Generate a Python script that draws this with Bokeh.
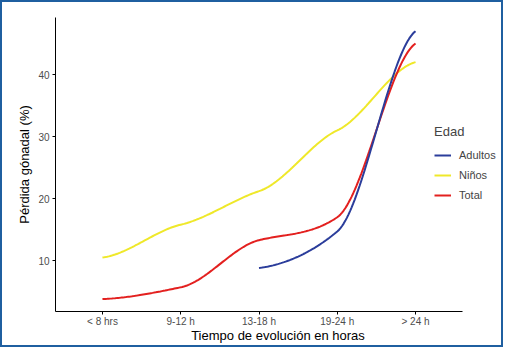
import numpy as np
from bokeh.plotting import figure
from bokeh.models import Range1d, FixedTicker, Legend, LegendItem
from bokeh.embed import file_html
from bokeh.resources import INLINE

# ---- data ----
categories = ["< 8 hrs", "9-12 h", "13-18 h", "19-24 h", "> 24 h"]
x_pos = [1, 2, 3, 4, 5]
ninos = [10.5, 15.8, 21.2, 31.0, 42.0]
total = [3.8, 5.7, 13.3, 17.0, 45.0]
adultos_x = [3, 4, 5]
adultos = [8.8, 14.7, 47.0]

series_names = ["Adultos", "Niños", "Total"]
series_colors = ["#2b3d9b", "#efe82a", "#e3201f"]


def smooth(xs, ys, k=0.55, kend=0.3, n=50):
    xs = np.asarray(xs, float)
    ys = np.asarray(ys, float)
    m = np.zeros_like(ys)
    for i in range(len(ys)):
        if i == 0:
            m[i] = kend * (ys[1] - ys[0]) / (xs[1] - xs[0])
        elif i == len(ys) - 1:
            m[i] = kend * (ys[-1] - ys[-2]) / (xs[-1] - xs[-2])
        else:
            m[i] = k * (ys[i + 1] - ys[i - 1]) / (xs[i + 1] - xs[i - 1])
    ox, oy = [], []
    for i in range(len(ys) - 1):
        h = xs[i + 1] - xs[i]
        t = np.linspace(0, 1, n, endpoint=(i == len(ys) - 2))
        h00 = 2 * t**3 - 3 * t**2 + 1
        h10 = t**3 - 2 * t**2 + t
        h01 = -2 * t**3 + 3 * t**2
        h11 = t**3 - t**2
        ox.extend(xs[i] + t * h)
        oy.extend(h00 * ys[i] + h10 * h * m[i] + h01 * ys[i + 1] + h11 * h * m[i + 1])
    return ox, oy


# frame extends under the legend; the x axis line is limited by bounds
W, H = 503, 347
left, right_b, top, bottom = 55, 3, 17, 36
x_lo, x_hi_axis = 0.4, 5.6
axis_px = 462 - left
x_hi = x_lo + (W - right_b - left) * (x_hi_axis - x_lo) / axis_px

p = figure(width=W, height=H, output_backend="svg", toolbar_location=None,
           x_range=Range1d(x_lo, x_hi), y_range=Range1d(1.8, 49.2),
           min_border_left=left, min_border_right=right_b, min_border_top=top,
           min_border_bottom=bottom)
p.styles = {"background-color": "white",
            "box-shadow": "inset 0 0 0 2px #1f5fa0",
            "outline": "2px solid #1f5fa0", "outline-offset": "-2px"}
p.grid.visible = False
p.outline_line_color = None
p.background_fill_color = "white"
p.border_fill_alpha = 0

font = "Liberation Sans"
for ax in (p.xaxis[0], p.yaxis[0]):
    ax.axis_line_color = "black"
    ax.axis_line_width = 1
    ax.major_tick_line_color = "black"
    ax.major_tick_in = 0
    ax.major_tick_out = 3
    ax.minor_tick_line_color = None
    ax.major_label_text_font = font
    ax.major_label_text_font_size = "10px"
    ax.major_label_text_color = "#4d4d4d"
    ax.axis_label_text_font = font
    ax.axis_label_text_font_size = "13px"
    ax.axis_label_text_font_style = "normal"
    ax.axis_label_text_color = "black"

p.xaxis.bounds = (x_lo, x_hi_axis)
p.xaxis.ticker = FixedTicker(ticks=x_pos)
p.xaxis.major_label_overrides = {x: c for x, c in zip(x_pos, categories)}
p.xaxis.axis_label = "Tiempo de evolución en horas"
p.xaxis.major_label_standoff = 1
p.xaxis.axis_label_standoff = -2

p.yaxis.ticker = FixedTicker(ticks=[10, 20, 30, 40])
p.yaxis.axis_label = "Pérdida gónadal (%)"
p.yaxis.major_label_standoff = 3
p.yaxis.axis_label_standoff = 3

ax_, ay_ = smooth(adultos_x, adultos)
nx_, ny_ = smooth(x_pos, ninos)
tx_, ty_ = smooth(x_pos, total)

r_n = p.line(nx_, ny_, line_color=series_colors[1], line_width=2)
r_t = p.line(tx_, ty_, line_color=series_colors[2], line_width=2)
r_a = p.line(ax_, ay_, line_color=series_colors[0], line_width=2)

legend = Legend(items=[LegendItem(label=series_names[0], renderers=[r_a]),
                       LegendItem(label=series_names[1], renderers=[r_n]),
                       LegendItem(label=series_names[2], renderers=[r_t])],
                location=(379, 106), title="Edad",
                title_text_font=font, title_text_font_size="13px",
                title_text_font_style="normal", title_standoff=6,
                label_text_font=font, label_text_font_size="11px",
                glyph_width=17, glyph_height=20, label_height=20,
                label_standoff=8, spacing=0, padding=5, margin=0,
                border_line_color=None, background_fill_alpha=0)
p.add_layout(legend)

open("out.html", "w").write(file_html(p, INLINE))
